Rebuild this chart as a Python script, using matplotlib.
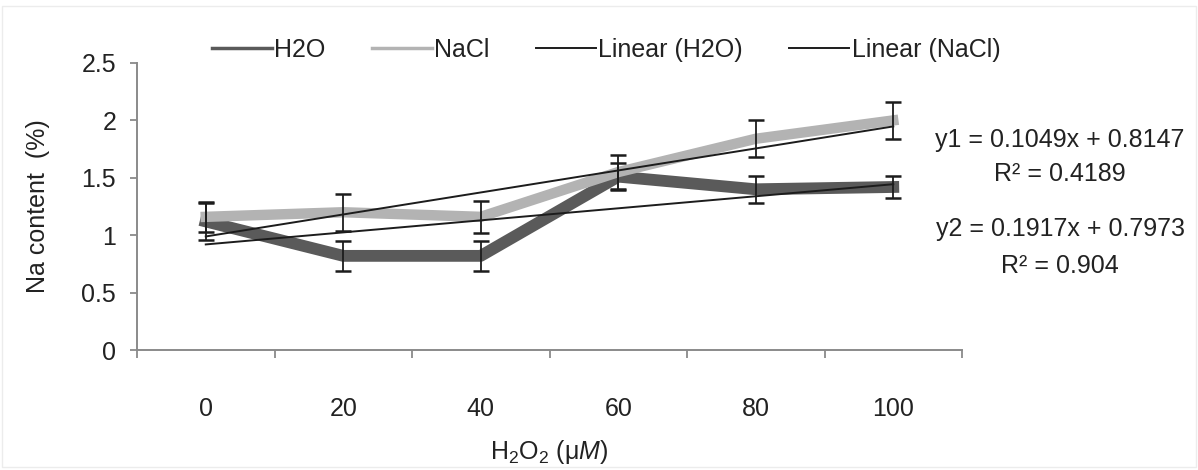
import numpy as np
import matplotlib
matplotlib.use("Agg")
import matplotlib.pyplot as plt
from matplotlib.lines import Line2D
from matplotlib.patches import Rectangle

plt.rcParams['font.family'] = ['Liberation Sans', 'DejaVu Sans']
plt.rcParams['font.size'] = 18
plt.rcParams['mathtext.fontset'] = 'custom'
plt.rcParams['mathtext.rm'] = 'Liberation Sans'
plt.rcParams['mathtext.it'] = 'Liberation Sans:italic'

# H2O2 concentrations (uM) used as categories
categories = ["0", "20", "40", "60", "80", "100"]

# Na content (%) for the two treatments, with error bar half-widths
h2o_values = [1.12, 0.82, 0.82, 1.51, 1.40, 1.42]
h2o_errors = [0.16, 0.13, 0.13, 0.12, 0.12, 0.10]
nacl_values = [1.16, 1.20, 1.16, 1.55, 1.84, 2.00]
nacl_errors = [0.13, 0.16, 0.14, 0.15, 0.16, 0.16]

# Linear trend lines (Excel style, x = 1..n)
h2o_slope, h2o_intercept, h2o_r2 = 0.1049, 0.8147, 0.4189
nacl_slope, nacl_intercept, nacl_r2 = 0.1917, 0.7973, 0.904

y_ticks = [0, 0.5, 1, 1.5, 2, 2.5]
y_tick_labels = ["0", "0.5", "1", "1.5", "2", "2.5"]

text_color = "#222222"
axis_color = "#8a8a8a"
h2o_color = "#5a5a5a"
nacl_color = "#b3b3b3"
trend_color = "#1c1c1c"

fig = plt.figure(figsize=(11.98, 4.70), dpi=100)
fig.patches.append(Rectangle((0.002, 0.006), 0.996, 0.982, transform=fig.transFigure,
                             fill=False, edgecolor="#ececec", lw=1.0))
ax = fig.add_axes([137 / 1198, 1 - 350 / 470, 825 / 1198, 287 / 470])

x = np.arange(len(categories))
xi = x + 1

ax.plot(x, h2o_values, color=h2o_color, lw=8.5, solid_joinstyle='round', zorder=2)
ax.plot(x, nacl_values, color=nacl_color, lw=7.5, solid_joinstyle='round', zorder=3)
ax.plot(x, h2o_slope * xi + h2o_intercept, color=trend_color, lw=1.4, zorder=4)
ax.plot(x, nacl_slope * xi + nacl_intercept, color=trend_color, lw=1.4, zorder=4)

ax.errorbar(x, h2o_values, yerr=h2o_errors, fmt='none', ecolor=trend_color,
            elinewidth=1.3, capsize=5.5, capthick=1.8, zorder=5)
ax.errorbar(x, nacl_values, yerr=nacl_errors, fmt='none', ecolor=trend_color,
            elinewidth=1.3, capsize=5.5, capthick=1.8, zorder=5)

ax.set_xlim(-0.5, len(categories) - 0.5)
ax.set_ylim(0, 2.5)
ax.set_yticks(y_ticks)
ax.set_yticklabels(y_tick_labels, color=text_color)
ax.set_xticks(x)
ax.set_xticklabels(categories, color=text_color)
ax.set_xticks(np.arange(-0.5, len(categories), 1.0), minor=True)

ax.tick_params(axis='x', which='major', length=0, pad=34)
ax.tick_params(axis='x', which='minor', length=6, width=1.3, color=axis_color, direction='out')
ax.tick_params(axis='y', which='major', length=5, width=1.3, color=axis_color, direction='out', pad=10)

for side in ("top", "right"):
    ax.spines[side].set_visible(False)
for side in ("left", "bottom"):
    ax.spines[side].set_color(axis_color)
    ax.spines[side].set_linewidth(1.4)

ax.set_ylabel("Na content  (%)", color=text_color)
ax.yaxis.set_label_coords(-0.105, 0.5)
ax.set_xlabel(r"H$_2$O$_2$ (μ$\mathit{M}$)", color=text_color)
ax.xaxis.set_label_coords(0.5, -0.305)

# Trend line equations
eq_x = 1060 / 1198
for label, ypix in [
    (f"y1 = {h2o_slope:.4f}x + {h2o_intercept:.4f}", 140),
    (f"R² = {h2o_r2}", 174),
    (f"y2 = {nacl_slope:.4f}x + {nacl_intercept:.4f}", 229),
    (f"R² = {nacl_r2}", 266),
]:
    fig.text(eq_x, 1 - ypix / 470, label, ha='center', va='center', color=text_color)

handles = [
    Line2D([], [], color=h2o_color, lw=2.5),
    Line2D([], [], color=nacl_color, lw=2.5),
    Line2D([], [], color=trend_color, lw=1.4),
    Line2D([], [], color=trend_color, lw=1.4),
]
labels = ["H2O", "NaCl", "Linear (H2O)", "Linear (NaCl)"]
fig.legend(handles, labels, ncol=4, loc='center', bbox_to_anchor=(606 / 1198, 1 - 50 / 470),
           frameon=False, handlelength=2.4, handletextpad=0.1, columnspacing=1.85,
           labelcolor=text_color)

fig.savefig("out.png", dpi=100)
